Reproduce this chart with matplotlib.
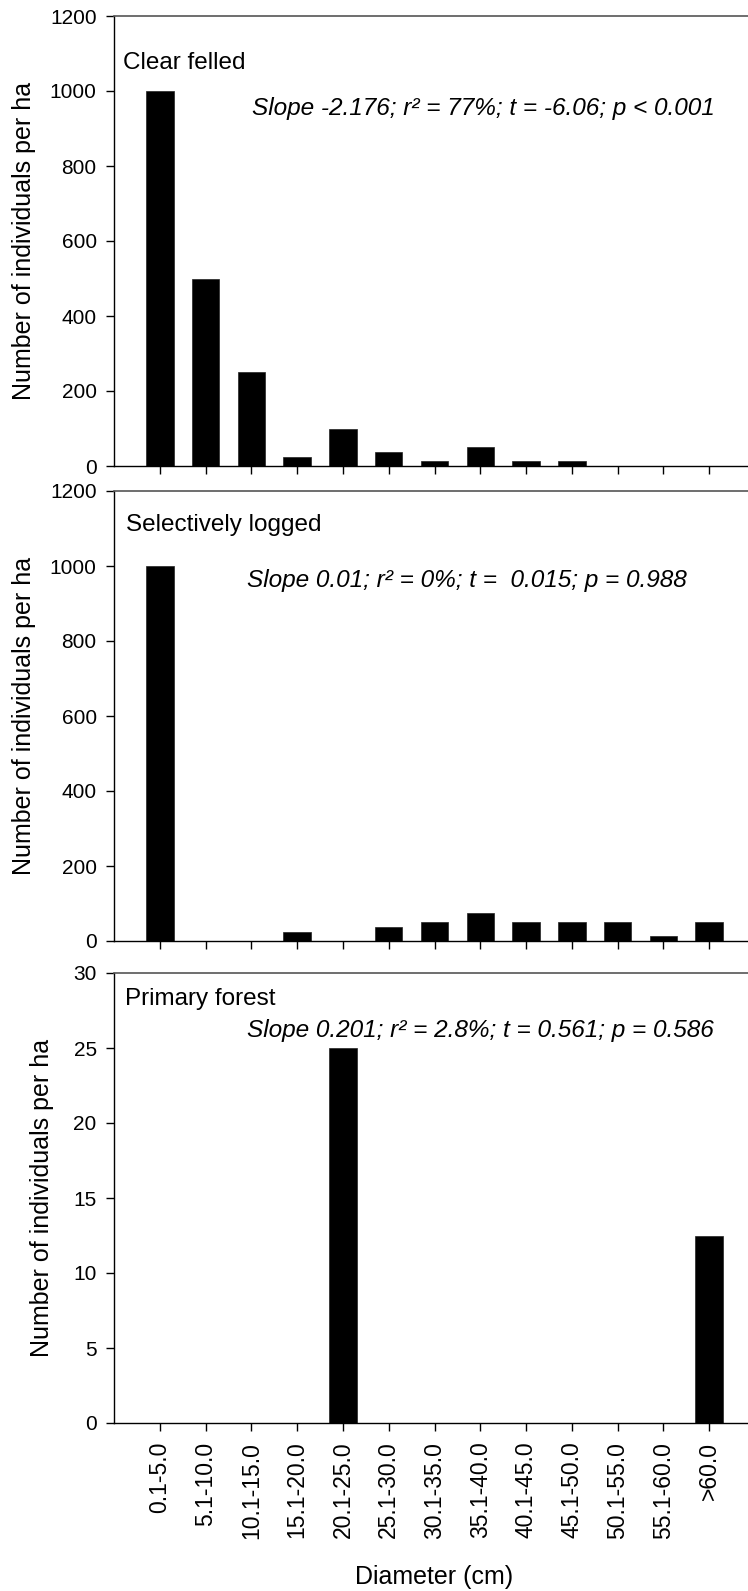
import numpy as np
import matplotlib
matplotlib.use('Agg')
import matplotlib.pyplot as plt

plt.rcParams['font.family'] = ['Liberation Sans', 'DejaVu Sans']

#diameter classes
categories = ['0.1-5.0', '5.1-10.0', '10.1-15.0', '15.1-20.0', '20.1-25.0', '25.1-30.0',
              '30.1-35.0', '35.1-40.0', '40.1-45.0', '45.1-50.0', '50.1-55.0', '55.1-60.0', '>60.0']

#individuals per ha for each forest type
clear_felled = [1000, 500, 250, 25, 100, 37.5, 12.5, 50, 12.5, 12.5, 0, 0, 0]
selectively_logged = [1000, 0, 0, 25, 0, 37.5, 50, 75, 50, 50, 50, 12.5, 50]
primary_forest = [0, 0, 0, 0, 25, 0, 0, 0, 0, 0, 0, 0, 12.5]

panel_names = ['Clear felled', 'Selectively logged', 'Primary forest']
stats_text = ['Slope -2.176; r\u00b2 = 77%; t = -6.06; p < 0.001',
              'Slope 0.01; r\u00b2 = 0%; t =  0.015; p = 0.988',
              'Slope 0.201; r\u00b2 = 2.8%; t = 0.561; p = 0.586']
y_max = [1200, 1200, 30]
y_step = [200, 200, 5]

W, H = 748, 1591
fig = plt.figure(figsize=(W/100, H/100), dpi=100)

# axes boxes in pixels: (top, bottom)
boxes = [(16, 466), (491, 941), (973, 1423)]
left_px, right_px = 114, 755
# text placement (pixels from left / below axes top)
name_pos = [(123, 53), (126, 40), (125, 32)]
stat_pos = [(252, 99), (247, 96), (247, 64)]
ylab_x = [24, 24, 42]

x = np.arange(len(categories))
series = [clear_felled, selectively_logged, primary_forest]

for i in range(3):
    top, bot = boxes[i]
    ax = fig.add_axes([left_px/W, 1 - bot/H, (right_px-left_px)/W, (bot-top)/H])
    ax.bar(x, series[i], width=0.6, color='black', edgecolor='#222222', linewidth=0.5)
    ax.set_xlim(-1, 13)
    ax.set_ylim(0, y_max[i])
    ax.set_yticks(np.arange(0, y_max[i] + 1, y_step[i]))
    ax.set_xticks(x)
    if i == 2:
        ax.set_xticklabels(categories, rotation=90, fontsize=16.5)
        ax.set_xlabel('Diameter (cm)', fontsize=18, va='baseline')
        ax.xaxis.set_label_coords(0.5, -(1584 - bot) / (bot - top))
    else:
        ax.set_xticklabels([])
    ax.tick_params(axis='y', direction='out', length=5.5, width=1, labelsize=15, pad=7)
    ax.tick_params(axis='x', direction='out', length=5.5, width=1, pad=8)

    ax.set_ylabel('Number of individuals per ha', fontsize=18, va='center')
    ax.yaxis.set_label_coords((ylab_x[i] - left_px) / (right_px - left_px), 0.5)

    ax.spines['right'].set_visible(False)
    ax.spines['top'].set_color('#555555')
    ax.spines['top'].set_linewidth(1.2)
    ax.spines['left'].set_linewidth(1)
    ax.spines['bottom'].set_linewidth(1)

    nx, ny = name_pos[i]
    ax.text((nx - left_px) / (right_px - left_px), 1 - ny / (bot - top), panel_names[i],
            transform=ax.transAxes, fontsize=17.5, va='baseline', ha='left')
    sx, sy = stat_pos[i]
    ax.text((sx - left_px) / (right_px - left_px), 1 - sy / (bot - top), stats_text[i],
            transform=ax.transAxes, fontsize=17.6, style='italic', va='baseline', ha='left')

plt.savefig('out.png', dpi=100)
